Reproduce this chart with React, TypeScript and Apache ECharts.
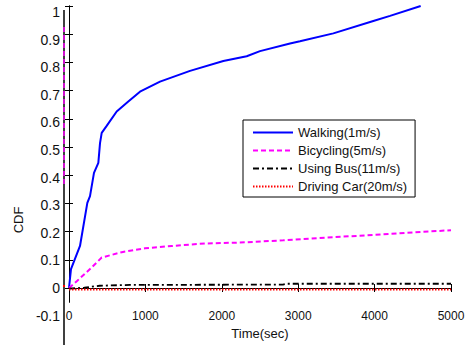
import React, { useEffect, useRef } from "react";
import * as echarts from "echarts";

const seriesNames = ["Walking(1m/s)", "Bicycling(5m/s)", "Using Bus(11m/s)", "Driving Car(20m/s)"];

const walkX = [0, 26, 144, 240, 275, 327, 384, 406, 428, 493, 624, 776, 929, 1191, 1584, 2020, 2326, 2500, 2893, 3023, 3460, 3983, 4202, 4603];
const walkY = [0, 0.067, 0.149, 0.302, 0.326, 0.408, 0.444, 0.514, 0.55, 0.575, 0.626, 0.661, 0.696, 0.732, 0.77, 0.805, 0.822, 0.84, 0.867, 0.875, 0.903, 0.947, 0.965, 1.0];

const bikeX = [0, 109, 275, 428, 690, 995, 1344, 1780, 2238, 2805, 3373, 3983, 4506, 5000];
const bikeY = [0, 0.026, 0.067, 0.108, 0.127, 0.141, 0.149, 0.158, 0.161, 0.169, 0.179, 0.188, 0.197, 0.205];

const busX = [0, 200, 400, 800, 2800, 2850, 5000];
const busY = [-0.002, 0.001, 0.008, 0.011, 0.012, 0.015, 0.015];

const carX = [0, 5000];
const carY = [-0.005, -0.005];

const yTickValues = [0, 0.1, 0.2, 0.3, 0.4, 0.5, 0.6, 0.7, 0.8, 0.9, 1.0];

const FONT = "Liberation Sans, Arial, sans-serif";

function pairs(xs: number[], ys: number[]) {
  return xs.map((x, i) => [x, ys[i]]);
}

export default function App() {
  const ref = useRef<HTMLDivElement>(null);
  useEffect(() => {
    if (!ref.current) return;
    const chart = echarts.init(ref.current, undefined, { renderer: "svg" });
    const boxAxis = { show: true, lineStyle: { color: "#000", width: 1 } };
    const tickIn = { show: true, inside: true, length: 4, lineStyle: { color: "#000" } };
    chart.setOption({
      animation: false,
      backgroundColor: "#fff",
      textStyle: { fontFamily: FONT },
      grid: [
        { left: 69, right: 17, top: 6, bottom: 42, containLabel: false },
        { left: 69, right: 17, top: 12, bottom: 29.4, containLabel: false },
      ],
      xAxis: [
        {
          type: "value", gridIndex: 0, position: "bottom", min: 0, max: 5000, interval: 1000,
          axisLine: boxAxis, axisTick: tickIn, splitLine: { show: false },
          axisLabel: { fontSize: 12, color: "#111", margin: 8, fontFamily: FONT, formatter: (v: number) => String(v) },
          name: "Time(sec)", nameLocation: "middle", nameGap: 24,
          nameTextStyle: { fontSize: 13, color: "#111", fontFamily: FONT },
        },
        {
          type: "value", gridIndex: 0, position: "top", min: 0, max: 5000, interval: 1000,
          axisLine: boxAxis, axisTick: tickIn, splitLine: { show: false }, axisLabel: { show: false },
        },
        { type: "value", gridIndex: 1, show: false, min: 0, max: 5000 },
      ],
      yAxis: [
        {
          type: "value", gridIndex: 0, position: "left", min: -0.05, max: 1.0,
          axisLine: boxAxis, axisTick: { ...tickIn, customValues: yTickValues },
          axisLabel: { show: false }, splitLine: { show: false },
        },
        {
          type: "value", gridIndex: 0, position: "right", min: -0.05, max: 1.0,
          axisLine: boxAxis, axisTick: { ...tickIn, customValues: yTickValues },
          axisLabel: { show: false }, splitLine: { show: false },
        },
        {
          type: "value", gridIndex: 1, position: "left", min: -0.1, max: 1.0, interval: 0.1,
          axisLine: { show: false }, axisTick: { show: false }, splitLine: { show: false },
          axisLabel: {
            fontSize: 14, color: "#111", margin: 9, fontFamily: FONT,
            formatter: (v: number) => String(Math.round(v * 10) / 10),
          },
        },
      ],
      legend: {
        orient: "vertical",
        left: 243,
        top: 120,
        data: seriesNames,
        itemWidth: 40,
        itemHeight: 14,
        itemGap: 5,
        padding: [6, 8, 4, 9],
        backgroundColor: "#fff",
        borderColor: "#000",
        borderWidth: 1,
        borderRadius: 0,
        itemStyle: { color: "rgba(0,0,0,0)", borderWidth: 0, opacity: 0 },
        textStyle: { fontSize: 13, color: "#111", fontFamily: FONT },
      },
      series: [
        {
          name: seriesNames[0], type: "line", xAxisIndex: 0, yAxisIndex: 0,
          data: pairs(walkX, walkY), symbol: "none", showSymbol: false,
          lineStyle: { color: "#0000ff", width: 2 }, itemStyle: { color: "#0000ff" },
        },
        {
          name: seriesNames[1], type: "line", xAxisIndex: 0, yAxisIndex: 0,
          data: pairs(bikeX, bikeY), symbol: "none", showSymbol: false,
          lineStyle: { color: "#ff00ff", width: 2, type: [5, 3] }, itemStyle: { color: "#ff00ff" },
        },
        {
          name: seriesNames[2], type: "line", xAxisIndex: 0, yAxisIndex: 0,
          data: pairs(busX, busY), symbol: "none", showSymbol: false,
          lineStyle: { color: "#000", width: 1.8, type: [6, 3, 2, 3] }, itemStyle: { color: "#000" },
        },
        {
          name: seriesNames[3], type: "line", xAxisIndex: 0, yAxisIndex: 0,
          data: pairs(carX, carY), symbol: "none", showSymbol: false,
          lineStyle: { color: "#ff0000", width: 2, type: [1.5, 1.5] }, itemStyle: { color: "#ff0000" },
        },
      ],
      graphic: [
        {
          type: "text", x: 18, y: 220, rotation: Math.PI / 2,
          style: { text: "CDF", fontSize: 13, fill: "#111", fontFamily: FONT, align: "center", verticalAlign: "middle" },
        },
        { type: "line", shape: { x1: 64, y1: 10, x2: 64, y2: 345 }, style: { stroke: "#000", lineWidth: 1.5 } },
        { type: "line", shape: { x1: 64, y1: 27, x2: 64, y2: 185 }, style: { stroke: "#ff00ff", lineWidth: 1.5, lineDash: [5, 3] } },
        { type: "rect", shape: { x: 63, y: 285, width: 2, height: 2 }, style: { fill: "#ff0000" } },
      ],
    });
    return () => chart.dispose();
  }, []);
  return <div ref={ref} style={{ position: "fixed", left: 0, top: 0, width: 468, height: 345 }} />;
}
